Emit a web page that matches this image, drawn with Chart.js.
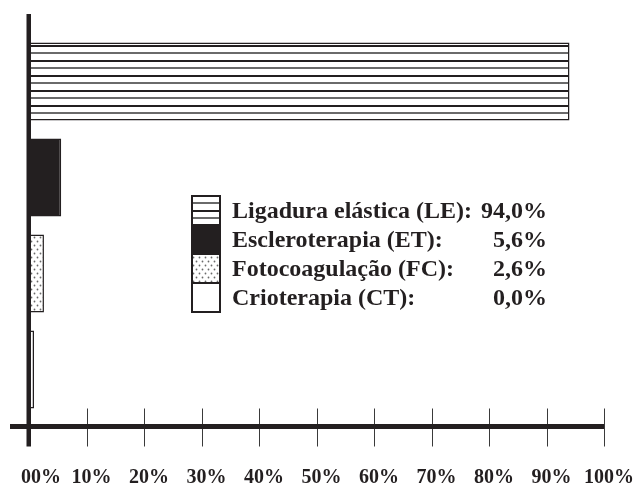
<!DOCTYPE html>
<html>
<head>
<meta charset="utf-8">
<script src="https://cdn.jsdelivr.net/npm/chart.js@4/dist/chart.umd.min.js"></script>
<style>
  html, body { margin: 0; padding: 0; background: #fff; }
</style>
</head>
<body>
<canvas id="chart" width="637" height="486"></canvas>
<script>
// data
const categories = ['Ligadura elástica (LE):', 'Escleroterapia (ET):', 'Fotocoagulação (FC):', 'Crioterapia (CT):'];
const percentages = [94.0, 5.6, 2.6, 0.0];
const tickValues = [0, 10, 20, 30, 40, 50, 60, 70, 80, 90, 100];
const tickLabels = ['00%', '10%', '20%', '30%', '40%', '50%', '60%', '70%', '80%', '90%', '100%'];

const ink = '#231f20';
const serif = '"Liberation Serif", "Times New Roman", serif';

//fill patterns for the bars
function stripePattern() {
  let c = document.createElement('canvas');
  c.width = 10; c.height = 15;
  let g = c.getContext('2d');
  g.fillStyle = '#fff'; g.fillRect(0, 0, 10, 15);
  g.fillStyle = ink; g.fillRect(0, 0, 10, 2);
  g.fillStyle = '#6a6a6a'; g.fillRect(0, 7, 10, 2);
  return g.createPattern(c, 'repeat');
}
function dotPattern() {
  let c = document.createElement('canvas');
  c.width = 6; c.height = 8;
  let g = c.getContext('2d');
  g.fillStyle = '#fff'; g.fillRect(0, 0, 6, 8);
  g.fillStyle = '#6a6a6a';
  g.beginPath(); g.arc(1.5, 1.5, 0.9, 0, Math.PI * 2); g.fill();
  g.beginPath(); g.arc(4.5, 5.5, 0.9, 0, Math.PI * 2); g.fill();
  return g.createPattern(c, 'repeat');
}
const fills = [stripePattern(), ink, dotPattern(), '#ffffff'];

function pct(v) {
  return v.toFixed(1).replace('.', ',') + '%';
}

//axis lines, ticks and tick labels drawn from the x scale
const axesPlugin = {
  id: 'refAxes',
  afterDatasetsDraw(chart) {
    let ctx = chart.ctx;
    let xs = chart.scales.x, ys = chart.scales.y;
    let x0 = xs.getPixelForValue(0);
    let xEnd = xs.getPixelForValue(100);
    let axisY = ys.bottom + 9;
    ctx.save();
    ctx.strokeStyle = '#3a3a3a';
    ctx.lineWidth = 1;
    tickValues.forEach((v) => {
      if (v === 0) return;
      let px = Math.round(xs.getPixelForValue(v)) + 0.5;
      ctx.beginPath();
      ctx.moveTo(px, axisY - 18);
      ctx.lineTo(px, axisY + 20);
      ctx.stroke();
    });
    ctx.fillStyle = ink;
    ctx.fillRect(10, axisY - 2.5, xEnd - 10, 5);
    ctx.fillRect(x0 - 2.5, 14, 4.5, axisY + 20 - 14);

    ctx.font = 'bold 20px ' + serif;
    ctx.textAlign = 'center';
    ctx.textBaseline = 'alphabetic';
    tickValues.forEach((v, i) => {
      let shift = v === 0 ? 12 : 5;
      ctx.fillText(tickLabels[i], xs.getPixelForValue(v) + shift, 483);
    });
    ctx.restore();
  }
};

//legend box with names and values
const legendPlugin = {
  id: 'refLegend',
  afterDraw(chart) {
    let ctx = chart.ctx;
    let bx = 192, by = 196, bw = 28, bh = 29;
    let ds = chart.data.datasets[0];
    ctx.save();
    categories.forEach((name, i) => {
      let top = by + i * bh;
      ctx.fillStyle = ds.backgroundColor[i];
      ctx.fillRect(bx, top, bw, bh);
      ctx.strokeStyle = ink;
      ctx.lineWidth = 2;
      ctx.strokeRect(bx, top, bw, bh);

      ctx.fillStyle = ink;
      ctx.font = 'bold 24px ' + serif;
      ctx.textBaseline = 'alphabetic';
      ctx.textAlign = 'left';
      ctx.fillText(name, 232, top + 22);
      ctx.textAlign = 'right';
      ctx.fillText(pct(ds.data[i]), 547, top + 22);
    });
    ctx.restore();
  }
};

new Chart(document.getElementById('chart').getContext('2d'), {
  type: 'bar',
  data: {
    labels: categories,
    datasets: [{
      data: percentages,
      backgroundColor: fills,
      borderColor: ink,
      borderWidth: 1.5,
      borderSkipped: false,
      categoryPercentage: 1,
      barPercentage: 0.81,
      minBarLength: 5
    }]
  },
  options: {
    indexAxis: 'y',
    responsive: false,
    animation: false,
    layout: { padding: { left: 29, right: 33, top: 33.5, bottom: 68.5 } },
    plugins: { legend: { display: false }, tooltip: { enabled: false } },
    scales: {
      x: { display: false, min: 0, max: 100 },
      y: { display: false }
    }
  },
  plugins: [axesPlugin, legendPlugin]
});
</script>
</body>
</html>
